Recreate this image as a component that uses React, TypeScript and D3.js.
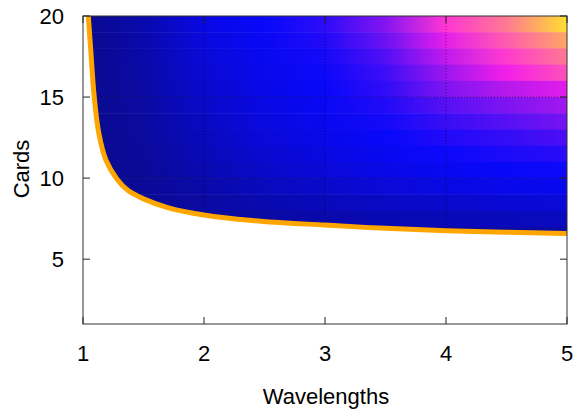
import React, { useEffect, useRef } from "react";
import * as d3 from "d3";

// x positions where the colour level of each band was read
const wavelengthSamples = [1, 1.5, 2, 2.5, 3, 3.5, 4, 4.5, 5];
// lower edge (in cards) of each horizontal band, top band first
const cardRows = [19, 18, 17, 16, 15, 14, 13, 12, 11, 10, 9, 8, 7, 6];
// palette level (0 = dark blue, 1 = blue, 2 = magenta, 3 = yellow)
const rowLevels = [
  [0, 0.3, 0.8, 1.0, 1.15, 1.5, 2.1, 2.4, 2.85],
  [0, 0.28, 0.75, 0.95, 1.1, 1.4, 1.9, 2.27, 2.6],
  [0, 0.26, 0.7, 0.92, 1.05, 1.3, 1.75, 2.12, 2.4],
  [0, 0.24, 0.65, 0.88, 1.02, 1.22, 1.6, 1.95, 2.22],
  [0, 0.22, 0.6, 0.84, 1.0, 1.16, 1.48, 1.7, 1.88],
  [0, 0.2, 0.55, 0.8, 0.95, 1.1, 1.32, 1.48, 1.62],
  [0, 0.18, 0.5, 0.75, 0.9, 1.05, 1.2, 1.32, 1.44],
  [0, 0.16, 0.45, 0.7, 0.85, 1.0, 1.1, 1.18, 1.27],
  [0, 0.14, 0.4, 0.62, 0.78, 0.92, 1.02, 1.08, 1.13],
  [0, 0.12, 0.34, 0.55, 0.7, 0.83, 0.93, 0.98, 1.02],
  [0, 0.1, 0.27, 0.45, 0.58, 0.7, 0.8, 0.86, 0.9],
  [0, 0.07, 0.2, 0.33, 0.43, 0.52, 0.6, 0.66, 0.7],
  [0, 0.05, 0.12, 0.22, 0.29, 0.35, 0.4, 0.44, 0.47],
  [0, 0.03, 0.07, 0.11, 0.15, 0.18, 0.21, 0.23, 0.25],
];

// boundary curve (orange)
const boundX = [1.044, 1.064, 1.093, 1.13, 1.19, 1.28, 1.37, 1.5, 1.7, 2.0, 2.4, 3.0, 3.5, 4.0, 4.5, 5.0];
const boundY = [20, 17.9, 15.0, 12.8, 11.1, 9.95, 9.25, 8.72, 8.18, 7.72, 7.38, 7.1, 6.9, 6.75, 6.66, 6.58];

const xTicks = [1, 2, 3, 4, 5];
const yTicks = [5, 10, 15, 20];
const paletteStops = [0, 1, 2, 3];
const paletteColors = ["#0a0a8c", "#0808fa", "#ff20e8", "#ffff10"];

const width = 578;
const height = 410;
const margin = { top: 16, right: 11, bottom: 86, left: 83 };
const font = "Liberation Sans, Arial, sans-serif";

export default function App() {
  const ref = useRef<SVGSVGElement | null>(null);

  useEffect(() => {
    const svg = d3.select(ref.current);
    svg.selectAll("*").remove();

    const x = d3.scaleLinear().domain([1, 5]).range([margin.left, width - margin.right]);
    const y = d3.scaleLinear().domain([1, 20]).range([height - margin.bottom, margin.top]);
    const color = d3.scaleLinear<string>().domain(paletteStops).range(paletteColors).clamp(true);

    const defs = svg.append("defs");
    const pts = boundX.map((d, i) => [d, boundY[i]] as [number, number]);
    const curve = d3.curveCatmullRom.alpha(0.5);

    // clip: region above the boundary curve
    const area = d3.area<[number, number]>()
      .x(d => x(d[0]))
      .y0(y(20))
      .y1(d => y(d[1]))
      .curve(curve);
    defs.append("clipPath").attr("id", "heatClip").append("path").attr("d", area(pts));
    defs.append("clipPath").attr("id", "plotClip").append("rect")
      .attr("x", x(1)).attr("y", y(20)).attr("width", x(5) - x(1)).attr("height", y(1) - y(20));

    // gradients per band
    cardRows.forEach((row, i) => {
      const g = defs.append("linearGradient").attr("id", `band${i}`)
        .attr("gradientUnits", "userSpaceOnUse")
        .attr("x1", x(1)).attr("x2", x(5)).attr("y1", 0).attr("y2", 0);
      wavelengthSamples.forEach((w, j) => {
        g.append("stop")
          .attr("offset", (w - 1) / 4)
          .attr("stop-color", color(rowLevels[i][j]));
      });
    });

    const heat = svg.append("g").attr("clip-path", "url(#heatClip)");
    heat.selectAll("rect").data(cardRows).join("rect")
      .attr("x", x(1))
      .attr("width", x(5) - x(1))
      .attr("y", d => y(d + 1))
      .attr("height", d => y(d) - y(d + 1) + 0.5)
      .attr("fill", (d, i) => `url(#band${i})`);

    // grid (dotted) over heat map
    const grid = svg.append("g").attr("clip-path", "url(#heatClip)")
      .attr("stroke", "#000").attr("stroke-opacity", 0.5).attr("stroke-dasharray", "1,2");
    grid.selectAll(".gx").data(xTicks.slice(1, -1)).join("line")
      .attr("class", "gx")
      .attr("x1", d => x(d)).attr("x2", d => x(d)).attr("y1", y(1)).attr("y2", y(20));
    grid.selectAll(".gy").data(yTicks.slice(0, -1)).join("line")
      .attr("class", "gy")
      .attr("y1", d => y(d)).attr("y2", d => y(d)).attr("x1", x(1)).attr("x2", x(5));

    // boundary line
    const line = d3.line<[number, number]>().x(d => x(d[0])).y(d => y(d[1])).curve(curve);
    svg.append("path").attr("clip-path", "url(#plotClip)")
      .attr("d", line(pts)).attr("fill", "none")
      .attr("stroke", "#ffa500").attr("stroke-width", 5);

    // border
    svg.append("rect")
      .attr("x", x(1)).attr("y", y(20)).attr("width", x(5) - x(1)).attr("height", y(1) - y(20))
      .attr("fill", "none").attr("stroke", "#333").attr("stroke-width", 1);

    // mirrored inward ticks
    const tk = 7;
    const ticks = svg.append("g").attr("stroke", "#222").attr("stroke-width", 1);
    xTicks.forEach(t => {
      ticks.append("line").attr("x1", x(t)).attr("x2", x(t)).attr("y1", y(1)).attr("y2", y(1) - tk);
      ticks.append("line").attr("x1", x(t)).attr("x2", x(t)).attr("y1", y(20)).attr("y2", y(20) + tk);
    });
    yTicks.forEach(t => {
      ticks.append("line").attr("y1", y(t)).attr("y2", y(t)).attr("x1", x(1)).attr("x2", x(1) + tk);
      ticks.append("line").attr("y1", y(t)).attr("y2", y(t)).attr("x1", x(5)).attr("x2", x(5) - tk);
    });

    const labels = svg.append("g").attr("font-family", font).attr("font-size", 22).attr("fill", "#000");
    labels.selectAll(".xl").data(xTicks).join("text")
      .attr("class", "xl")
      .attr("x", d => x(d)).attr("y", y(1) + 37)
      .attr("text-anchor", "middle").text(d => d);
    labels.selectAll(".yl").data(yTicks).join("text")
      .attr("class", "yl")
      .attr("x", x(1) - 19).attr("y", d => y(d) + 8)
      .attr("text-anchor", "end").text(d => d);

    labels.append("text").attr("x", 326).attr("y", 404).attr("text-anchor", "middle").text("Wavelengths");
    labels.append("text")
      .attr("transform", `translate(29, 169) rotate(-90)`)
      .attr("text-anchor", "middle").text("Cards");
  }, []);

  return (
    <svg
      ref={ref}
      width={width}
      height={height}
      style={{ position: "absolute", left: 0, top: 0, background: "#fff" }}
    />
  );
}
